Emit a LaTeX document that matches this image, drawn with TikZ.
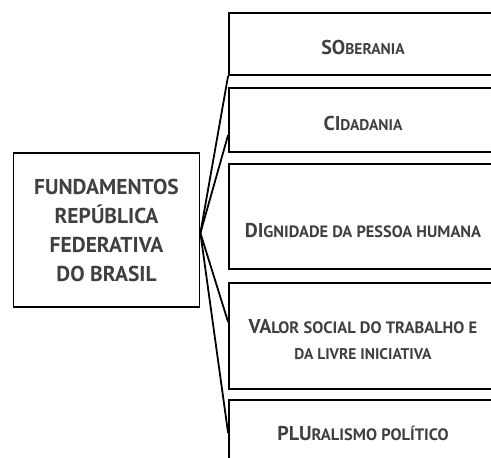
\documentclass[tikz,border=0pt]{standalone}
\usepackage{fontspec}
\setmainfont{PT Sans}
\usepackage{tikz}
\definecolor{txtgray}{HTML}{404040}
\newcommand{\capsmall}[3][15.5]{{\fontsize{20}{26}\selectfont #2}{\fontsize{#1}{26}\selectfont #3}}

\begin{document}
\begin{tikzpicture}[x=1pt, y=-1pt, line width=1.8pt,
		fundbox/.style = {draw, minimum width=186pt, minimum height=154pt, align=center, text=txtgray, font=\bfseries\fontsize{21.5}{29}\selectfont},
		itembox/.style = {draw, minimum width=268pt},
		itemtxt/.style = {text=txtgray, font=\bfseries\fontsize{15.5}{26}\selectfont, align=center, inner sep=0pt}]
			\useasboundingbox (0,0) rectangle (491,458);
			\clip (0,0) rectangle (491,458);
			\node[fundbox] (fund) at (106.5, 230) {FUNDAMENTOS\\REPÚBLICA\\FEDERATIVA\\DO BRASIL};
			
			\node[itembox, minimum height=62pt] (sob) at (363, 44) {};
			\node[itembox, minimum height=64pt] (cid) at (363, 120) {};
			\node[itembox, minimum height=105pt] (dig) at (363, 216.5) {};
			\node[itembox, minimum height=106pt] (val) at (363, 336) {};
			\node[itembox, minimum height=66pt] (plu) at (363, 433) {};
			
			\node[itemtxt] (tsob) at ([yshift=-3pt]sob.center) {\capsmall{SO}{BERANIA}};
			\node[itemtxt] (tcid) at ([yshift=-3pt]cid.center) {\capsmall{CI}{DADANIA}};
			\node[itemtxt] (tdig) at ([yshift=-14pt]dig.center) {\capsmall[16.4]{DI}{GNIDADE DA PESSOA HUMANA}};
			\node[itemtxt] (tval) at ([yshift=-4pt]val.center) {\capsmall[16.5]{VA}{LOR SOCIAL DO TRABALHO E}\\DA LIVRE INICIATIVA};
			\node[itemtxt] (tplu) at (plu.center) {\capsmall[16.5]{PLU}{RALISMO POLÍTICO}};
			
			\coordinate (hub) at ([yshift=-3pt]fund.east);
			\draw (hub) -- (sob.south west);
			\draw (hub) -- ([yshift=-15pt]cid.west);
			\draw (hub) -- ([yshift=14pt]val.west);
			\draw (hub) -- (plu.west);
			\end{tikzpicture}
\end{document}
